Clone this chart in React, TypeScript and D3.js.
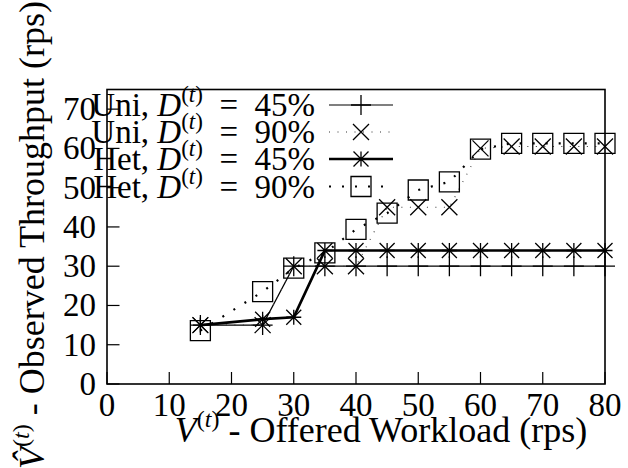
import React from 'react';
import * as d3 from 'd3';

// Offered workload (rps) sampled for every series
const workload = [15, 25, 30, 35, 40, 45, 50, 55, 60, 65, 70, 75, 80];

// Observed throughput (rps) per configuration
const uni45 = [15, 15, 30, 30, 30, 30, 30, 30, 30, 30, 30, 30, 30];
const uni90 = [15, 15, 30, 30, 30, 45, 45, 45, 60, 60.5, 60.5, 60.5, 60.5];
const het45 = [15, 16.5, 17, 34, 34, 34, 34, 34, 34, 34, 34, 34, 34];
const het90 = [13.6, 23.5, 29.5, 33.4, 39.4, 43.5, 49.4, 51.5, 59.8, 61.3, 61.3, 61.3, 61.3];

const seriesNames = ['Uni', 'Uni', 'Het', 'Het'];
const seriesShares = ['45%', '90%', '45%', '90%'];

const xTicks = [0, 10, 20, 30, 40, 50, 60, 70, 80];
const yTicks = [0, 10, 20, 30, 40, 50, 60, 70];

const W = 628;
const H = 468;
const FONT = '"Liberation Serif", "DejaVu Serif", serif';
const FS = 33;
const TITLE_FS = 36;

type Marker = 'plus' | 'cross' | 'star' | 'square';

function markerPath(kind: Marker, cx: number, cy: number): string {
  const p = d3.path();
  if (kind === 'plus') {
    const r = 10;
    p.moveTo(cx - r, cy); p.lineTo(cx + r, cy);
    p.moveTo(cx, cy - r); p.lineTo(cx, cy + r);
  } else if (kind === 'cross') {
    const r = 8;
    p.moveTo(cx - r, cy - r); p.lineTo(cx + r, cy + r);
    p.moveTo(cx - r, cy + r); p.lineTo(cx + r, cy - r);
  } else if (kind === 'star') {
    const r = 7.5;
    p.moveTo(cx - r, cy); p.lineTo(cx + r, cy);
    p.moveTo(cx, cy - r); p.lineTo(cx, cy + r);
    p.moveTo(cx - r, cy - r); p.lineTo(cx + r, cy + r);
    p.moveTo(cx - r, cy + r); p.lineTo(cx + r, cy - r);
  } else {
    const r = 10;
    p.rect(cx - r, cy - r, 2 * r, 2 * r);
  }
  return p.toString();
}

const series = [
  { values: uni45, marker: 'plus' as Marker, width: 1.2, dash: undefined as string | undefined, color: '#000' },
  { values: uni90, marker: 'cross' as Marker, width: 1.1, dash: '1 7.5', color: '#333' },
  { values: het45, marker: 'star' as Marker, width: 2.7, dash: undefined, color: '#000' },
  { values: het90, marker: 'square' as Marker, width: 2.2, dash: '2 11', color: '#000' },
];

export default function App() {
  const left = 107;
  const right = 605;
  const top = 89.5;
  const bottom = 384;

  const x = d3.scaleLinear().domain([0, 80]).range([left, right]);
  const y = d3.scaleLinear().domain([0, 75]).range([bottom, top]);

  const line = d3
    .line<number>()
    .x((_, i) => x(workload[i]))
    .y((d) => y(d));

  const legendRows = [105, 132, 159, 186.5];
  const legendTextRight = 315;
  const legendLineL = 329;
  const legendLineR = 393;

  const txt = { fontFamily: FONT };

  return (
    <svg width={W} height={H} style={{ position: 'absolute', left: 0, top: 0, background: '#fff', fontFamily: FONT }}>
      <rect x={0} y={0} width={W} height={H} fill="#fff" />

      {/* ticks */}
      {xTicks.map((t) => (
        <line key={'xt' + t} x1={x(t)} x2={x(t)} y1={bottom} y2={bottom - 12} stroke="#000" strokeWidth={1.2} />
      ))}
      {yTicks.map((t) => (
        <line key={'yt' + t} x1={left} x2={left + 12.5} y1={y(t)} y2={y(t)} stroke="#000" strokeWidth={1.2} />
      ))}

      {/* tick labels */}
      {xTicks.map((t) => (
        <text key={'xl' + t} x={x(t)} y={416} fontSize={FS} textAnchor="middle" fill="#000" style={txt}>
          {t}
        </text>
      ))}
      {yTicks.map((t) => (
        <text key={'yl' + t} x={96} y={y(t) + 11} fontSize={FS} textAnchor="end" fill="#000" style={txt}>
          {t}
        </text>
      ))}

      {/* frame */}
      <rect x={left} y={top} width={right - left} height={bottom - top} fill="none" stroke="#000" strokeWidth={1.6} />

      {/* series */}
      {series.map((s, k) => (
        <g key={'s' + k}>
          <path d={line(s.values) || ''} fill="none" stroke={s.color} strokeWidth={s.width} strokeDasharray={s.dash} />
          {s.values.map((v, i) => (
            <path key={i} d={markerPath(s.marker, x(workload[i]), y(v))} fill="none" stroke="#000" strokeWidth={1.3} />
          ))}
        </g>
      ))}

      {/* legend */}
      {series.map((s, k) => (
        <g key={'lg' + k}>
          <text x={legendTextRight} y={legendRows[k] + 11} fontSize={FS} textAnchor="end" fill="#000" style={txt}>
            {seriesNames[k]},{' '}
            <tspan fontStyle="italic">D</tspan>
            <tspan fontSize={23} dy={-14}>(</tspan>
            <tspan fontSize={23} fontStyle="italic">t</tspan>
            <tspan fontSize={23}>)</tspan>
            <tspan dy={14}>{'\u2002=\u2002' + seriesShares[k]}</tspan>
          </text>
          <line x1={legendLineL} x2={legendLineR} y1={legendRows[k]} y2={legendRows[k]} stroke={s.color} strokeWidth={s.width} strokeDasharray={s.dash} />
          <path d={markerPath(s.marker, (legendLineL + legendLineR) / 2, legendRows[k])} fill="none" stroke="#000" strokeWidth={1.3} />
        </g>
      ))}

      {/* axis titles */}
      <text x={381} y={442} fontSize={TITLE_FS} textAnchor="middle" fill="#000" style={txt}>
        <tspan fontStyle="italic">V</tspan>
        <tspan fontSize={24} dy={-15}>(</tspan>
        <tspan fontSize={24} fontStyle="italic">t</tspan>
        <tspan fontSize={24}>)</tspan>
        <tspan dy={15}> - Offered Workload (rps)</tspan>
      </text>
      <text transform="translate(44,235) rotate(-90)" fontSize={TITLE_FS} textAnchor="middle" fill="#000" style={txt}>
        <tspan fontStyle="italic">{'V\u0302'}</tspan>
        <tspan fontSize={24} dy={-15}>(</tspan>
        <tspan fontSize={24} fontStyle="italic">t</tspan>
        <tspan fontSize={24}>)</tspan>
        <tspan dy={15}> - Observed Throughput (rps)</tspan>
      </text>
    </svg>
  );
}
